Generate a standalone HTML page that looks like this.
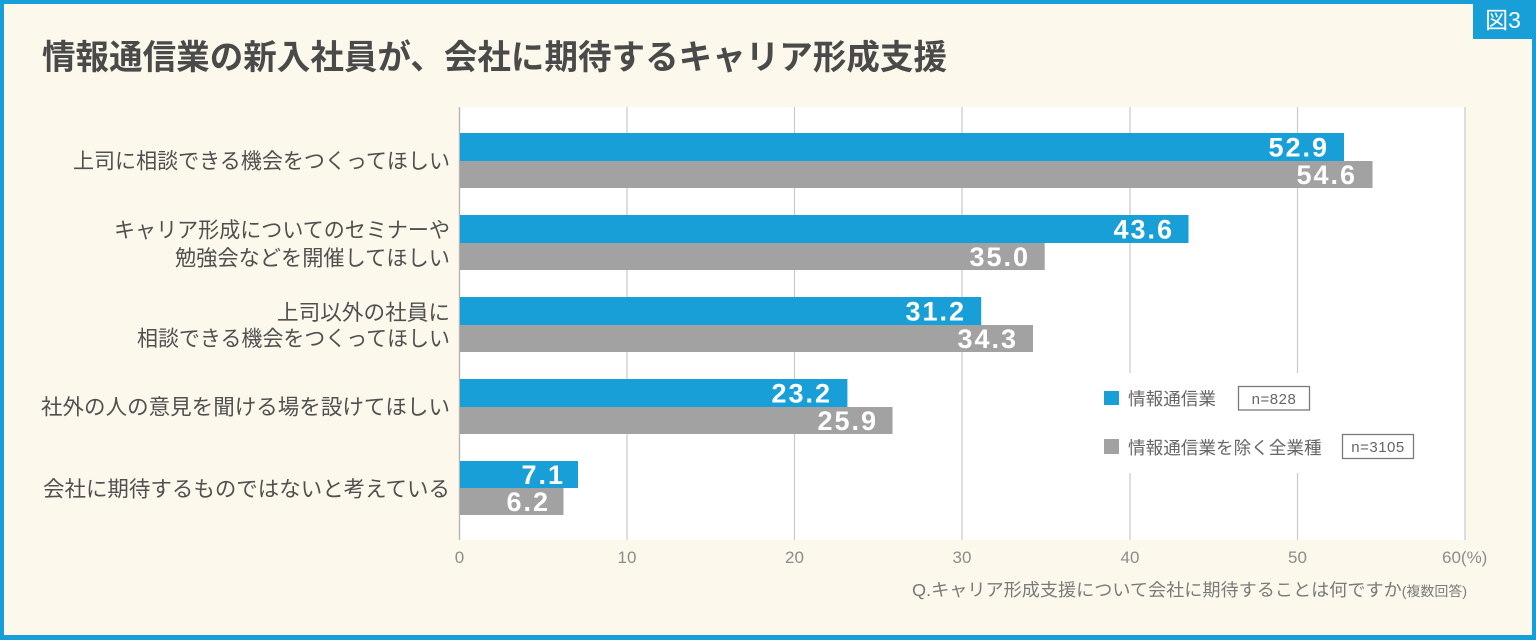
<!DOCTYPE html>
<html><head><meta charset="utf-8"><style>
html,body{margin:0;padding:0;background:#fcf9ec;}
svg{display:block;}
text{font-family:"Liberation Sans","Noto Sans CJK JP",sans-serif;}
</style></head><body>
<svg width="1536" height="640" viewBox="0 0 1536 640" xmlns="http://www.w3.org/2000/svg">
<rect x="0" y="0" width="1536" height="640" fill="#189fd8"/>
<rect x="4" y="4" width="1528" height="631" fill="#fcf9ec"/>
<rect x="1473" y="0" width="60" height="39" fill="#189fd8"/>
<text x="1503" y="28" font-size="23" fill="#fff" text-anchor="middle">図3</text>

<text x="42" y="69" font-size="34" font-weight="bold" fill="#4a4a4a" textLength="905" lengthAdjust="spacingAndGlyphs">情報通信業の新入社員が、会社に期待するキャリア形成支援</text>

<!-- plot area -->
<rect x="459" y="107" width="1006" height="433" fill="#ffffff"/>
<g stroke="#c9c9c9" stroke-width="1.2">
<line x1="627" y1="107" x2="627" y2="540"/>
<line x1="794.5" y1="107" x2="794.5" y2="540"/>
<line x1="962" y1="107" x2="962" y2="540"/>
<line x1="1130" y1="107" x2="1130" y2="540"/>
<line x1="1297.5" y1="107" x2="1297.5" y2="540"/>
<line x1="1465" y1="107" x2="1465" y2="540"/>
</g>
<line x1="459.5" y1="107" x2="459.5" y2="540" stroke="#b5b5b5" stroke-width="1.4"/>

<!-- bars -->
<g>
<rect x="460" y="133" width="884" height="28" fill="#189fd8"/>
<rect x="460" y="161" width="912.5" height="27" fill="#a2a2a2"/>
<rect x="460" y="215" width="728.5" height="28" fill="#189fd8"/>
<rect x="460" y="243" width="584.7" height="27" fill="#a2a2a2"/>
<rect x="460" y="297" width="521.2" height="28" fill="#189fd8"/>
<rect x="460" y="325" width="573" height="27" fill="#a2a2a2"/>
<rect x="460" y="379" width="387.4" height="28" fill="#189fd8"/>
<rect x="460" y="407" width="432.5" height="27" fill="#a2a2a2"/>
<rect x="460" y="461" width="118" height="27" fill="#189fd8"/>
<rect x="460" y="488" width="103.5" height="27" fill="#a2a2a2"/>
</g>
<g font-size="27" font-weight="bold" fill="#ffffff" text-anchor="end" letter-spacing="2">
<text x="1329" y="156.5">52.9</text>
<text x="1357" y="184">54.6</text>
<text x="1174" y="238.5">43.6</text>
<text x="1030" y="266">35.0</text>
<text x="966" y="320.5">31.2</text>
<text x="1018" y="348">34.3</text>
<text x="832" y="402.5">23.2</text>
<text x="878" y="430">25.9</text>
<text x="565" y="484">7.1</text>
<text x="550" y="511">6.2</text>
</g>

<!-- legend -->
<rect x="1092" y="373" width="336" height="100" fill="#ffffff"/>
<rect x="1104" y="391" width="15" height="14" fill="#189fd8"/>
<text x="1128" y="405" font-size="17.6" fill="#666">情報通信業</text>
<rect x="1238.5" y="386.5" width="71" height="23.5" fill="none" stroke="#7a7a7a" stroke-width="1.3"/>
<text x="1274" y="404" font-size="15" fill="#666" text-anchor="middle" letter-spacing="0.5">n=828</text>
<rect x="1104" y="439" width="15" height="15" fill="#a2a2a2"/>
<text x="1128" y="454" font-size="17.6" fill="#666">情報通信業を除く全業種</text>
<rect x="1342.5" y="434.5" width="71" height="24" fill="none" stroke="#7a7a7a" stroke-width="1.3"/>
<text x="1378" y="452" font-size="15" fill="#666" text-anchor="middle" letter-spacing="0.5">n=3105</text>

<!-- category labels -->
<g font-size="21.5" fill="#505050">
<text x="73" y="168.7" textLength="377" lengthAdjust="spacingAndGlyphs">上司に相談できる機会をつくってほしい</text>
<text x="114" y="237.7" textLength="336" lengthAdjust="spacingAndGlyphs">キャリア形成についてのセミナーや</text>
<text x="175" y="265.7" textLength="275" lengthAdjust="spacingAndGlyphs">勉強会などを開催してほしい</text>
<text x="277" y="320.2" textLength="173" lengthAdjust="spacingAndGlyphs">上司以外の社員に</text>
<text x="137" y="346.2" textLength="313" lengthAdjust="spacingAndGlyphs">相談できる機会をつくってほしい</text>
<text x="41" y="414.7" textLength="409" lengthAdjust="spacingAndGlyphs">社外の人の意見を聞ける場を設けてほしい</text>
<text x="43" y="496.7" textLength="407" lengthAdjust="spacingAndGlyphs">会社に期待するものではないと考えている</text>
</g>

<!-- tick labels -->
<g font-size="17" fill="#8c8c8c" text-anchor="middle">
<text x="459.5" y="563">0</text>
<text x="627" y="563">10</text>
<text x="794.5" y="563">20</text>
<text x="962" y="563">30</text>
<text x="1130" y="563">40</text>
<text x="1297.5" y="563">50</text>
</g>
<text x="1442" y="563" font-size="17" fill="#8c8c8c">60(%)</text>

<!-- footnote -->
<text x="912" y="596" font-size="17.5" fill="#7a7a7a" textLength="555" lengthAdjust="spacingAndGlyphs">Q.キャリア形成支援について会社に期待することは何ですか<tspan font-size="13.5">(複数回答)</tspan></text>
</svg>
</body></html>
